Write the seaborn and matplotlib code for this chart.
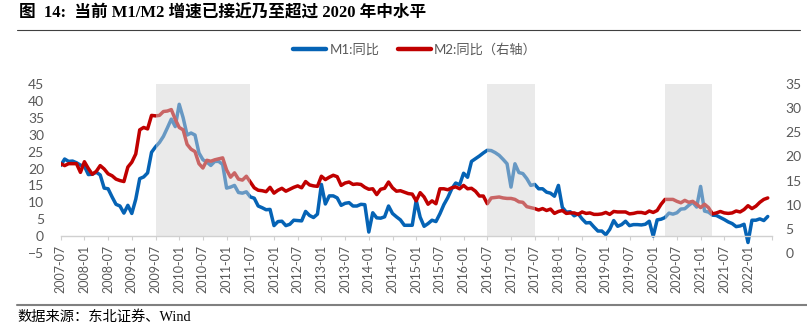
import numpy as np
import pandas as pd
import matplotlib
matplotlib.use("Agg")
import matplotlib.pyplot as plt
from matplotlib.lines import Line2D
import seaborn as sns

# ---------------- data (2007-07 .. 2022-06, monthly, %) ----------------
m1_yoy = [
    20.9, 22.8, 22.1, 22.2, 21.7, 21.0,
    20.7, 18.2, 18.3, 18.9, 18.1, 14.2, 14.0, 11.6, 9.4, 8.9, 6.8, 9.1,
    6.7, 10.9, 17.0, 17.5, 18.7, 24.8, 26.4, 27.7, 29.5, 32.0, 34.6, 32.4,
    39.0, 35.0, 29.9, 30.5, 29.9, 24.6, 22.6, 21.9, 20.9, 22.1, 22.1, 21.2,
    14.2, 14.5, 15.0, 12.9, 12.7, 13.1, 11.6, 11.2, 8.9, 8.4, 7.8, 7.9,
    3.1, 4.3, 4.4, 3.1, 3.5, 4.7, 4.6, 4.5, 7.3, 6.1, 5.5, 6.5,
    15.3, 9.5, 11.9, 11.9, 11.3, 9.1, 9.7, 9.9, 8.9, 8.9, 9.4, 9.3,
    1.2, 6.9, 5.4, 5.3, 5.7, 8.9, 6.7, 5.7, 4.8, 3.2, 3.2, 3.2,
    10.6, 5.6, 2.9, 3.7, 4.7, 4.3, 6.6, 9.3, 11.4, 14.0, 15.7, 15.2,
    18.6, 17.4, 22.1, 22.9, 23.7, 24.6, 25.4, 25.3, 24.7, 23.9, 22.7, 21.4,
    14.5, 21.4, 18.8, 18.5, 17.0, 15.0, 15.3, 14.0, 14.0, 13.0, 12.7, 11.8,
    15.0, 8.5, 7.1, 7.2, 6.0, 6.6, 5.1, 3.9, 4.0, 2.7, 1.5, 1.5,
    0.4, 2.0, 4.6, 2.9, 3.4, 4.4, 3.1, 3.4, 3.4, 3.3, 3.5, 4.4,
    0.0, 4.8, 5.0, 5.5, 6.8, 6.5, 6.9, 8.0, 8.1, 9.1, 10.0, 8.6,
    14.7, 7.4, 7.1, 6.2, 6.1, 5.5, 4.9, 4.2, 3.7, 2.8, 3.0, 3.5,
    -1.9, 4.7, 4.7, 5.1, 4.6, 5.8,
]
m2_yoy = [
    18.5, 18.1, 18.5, 18.5, 18.5, 16.7,
    18.9, 17.5, 16.3, 16.9, 18.1, 17.4, 16.4, 16.0, 15.3, 15.0, 14.8, 17.8,
    18.8, 20.5, 25.5, 26.0, 25.7, 28.5, 28.4, 28.5, 29.3, 29.4, 29.7, 27.7,
    26.0, 25.5, 22.5, 21.5, 21.0, 18.5, 17.6, 19.2, 19.0, 19.3, 19.5, 19.7,
    17.2, 15.7, 16.6, 15.3, 15.1, 15.9, 14.7, 13.5, 13.0, 12.9, 12.7, 13.6,
    12.4, 13.0, 13.4, 12.8, 13.2, 13.6, 13.9, 13.5, 14.8, 14.1, 13.9, 13.8,
    15.9, 15.2, 15.7, 16.1, 15.8, 14.0, 14.5, 14.7, 14.2, 14.3, 14.2, 13.6,
    13.2, 13.3, 12.1, 13.2, 13.4, 14.7, 13.5, 12.8, 12.9, 12.6, 12.3, 12.2,
    10.8, 12.5, 11.6, 10.1, 10.8, 10.2, 13.3, 13.3, 13.1, 13.5, 13.7, 13.3,
    14.0, 13.3, 13.4, 12.8, 11.8, 11.8, 10.2, 11.4, 11.5, 11.6, 11.4, 11.3,
    11.3, 11.1, 10.6, 10.5, 9.6, 9.4, 9.2, 8.9, 9.2, 8.8, 9.1, 8.2,
    8.6, 8.8, 8.2, 8.3, 8.3, 8.0, 8.5, 8.2, 8.3, 8.0, 8.0, 8.1,
    8.4, 8.0, 8.6, 8.5, 8.5, 8.5, 8.1, 8.2, 8.4, 8.4, 8.2, 8.7,
    8.4, 8.8, 10.1, 11.1, 11.1, 11.1, 10.7, 10.4, 10.9, 10.5, 10.7, 10.1,
    9.4, 10.1, 9.4, 8.1, 8.3, 8.6, 8.3, 8.2, 8.3, 8.7, 8.5, 9.0,
    9.8, 9.2, 9.7, 10.5, 11.1, 11.4,
]
tick_labels = ["2007-07", "2008-01", "2008-07", "2009-01", "2009-07", "2010-01",
               "2010-07", "2011-01", "2011-07", "2012-01", "2012-07", "2013-01",
               "2013-07", "2014-01", "2014-07", "2015-01", "2015-07", "2016-01",
               "2016-07", "2017-01", "2017-07", "2018-01", "2018-07", "2019-01",
               "2019-07", "2020-01", "2020-07", "2021-01", "2021-07", "2022-01", ""]
# shaded periods (start, end) as month labels
shade_periods = [("2009-07", "2011-07"), ("2016-07", "2017-07"), ("2020-04", "2021-04")]
series_names = ["M1:同比", "M2:同比（右轴）"]
title_text = "图  14:  当前 M1/M2 增速已接近乃至超过 2020 年中水平"
source_text = "数据来源：东北证券、Wind"

# ---------------- build table ----------------
df = pd.DataFrame({"idx": np.arange(len(m1_yoy)), "m1": m1_yoy, "m2": m2_yoy})
start = pd.Period("2007-07", freq="M")


def midx(s):
    return (pd.Period(s, freq="M") - start).n


sns.set_theme(style="white")
FONT = ["Lato", "Noto Sans CJK SC", "DejaVu Sans"]
plt.rcParams["font.family"] = FONT

BLUE = "#0563B5"
RED = "#C00000"
GRAY_TXT = "#595959"
AXIS_GRAY = "#D0D0D0"

fig = plt.figure(figsize=(8.07, 3.27), dpi=100)
fig.patch.set_facecolor("white")
ax = fig.add_axes([60.7 / 807, 1 - 253 / 327, (771.7 - 60.7) / 807, (253 - 84) / 327])
ax.patch.set_alpha(0)

sns.lineplot(data=df, x="idx", y="m1", ax=ax, color=BLUE, linewidth=2.5,
             label=series_names[0], legend=False, zorder=2)
ax.set_xlim(0, 180)
ax.set_ylim(-5, 45)
ax.set_yticks(np.arange(-5, 46, 5))

ax2 = ax.twinx()
sns.lineplot(data=df, x="idx", y="m2", ax=ax2, color=RED, linewidth=2.5,
             label=series_names[1], legend=False, zorder=2)
ax2.set_ylim(0, 35)
ax2.set_yticks(np.arange(0, 36, 5))
ax2.set_xlim(0, 180)

# shaded periods over the lines (semi-transparent)
for s, e in shade_periods:
    ax2.axvspan(midx(s), midx(e), ymin=0.1, ymax=1.0, color="#D4D4D4",
                alpha=0.48, lw=0, zorder=3)

# axes styling
for a in (ax, ax2):
    a.set_xlabel("")
    a.set_ylabel("")
    for sp in a.spines.values():
        sp.set_visible(False)
ax.spines["bottom"].set_visible(True)
ax.spines["bottom"].set_position(("data", 0))
ax.spines["bottom"].set_color(AXIS_GRAY)
ax.spines["bottom"].set_linewidth(1.0)

ax.set_xticks(np.arange(0, 181, 6))
ax.set_xticklabels(tick_labels, rotation=90)
ax.tick_params(axis="x", direction="out", length=3, width=0.8, color=AXIS_GRAY,
               pad=3, labelsize=9, labelcolor=GRAY_TXT, bottom=True)
ax.tick_params(axis="y", length=0, pad=12, labelsize=10, labelcolor=GRAY_TXT)
ax2.tick_params(axis="y", length=0, pad=10, labelsize=10, labelcolor=GRAY_TXT)
ax2.tick_params(axis="x", bottom=False, labelbottom=False)
ax.grid(False)
ax2.grid(False)

# legend
handles = [Line2D([], [], color=BLUE, lw=3.2), Line2D([], [], color=RED, lw=3.2)]
fig.legend(handles, series_names, loc="center", bbox_to_anchor=(415 / 807, 1 - 49 / 327),
           ncol=2, frameon=False, handlelength=2.5, handletextpad=0.25,
           columnspacing=1.4, prop={"family": FONT, "size": 9.5},
           labelcolor=GRAY_TXT)

# title, rules, source
fig.text(19 / 807, 1 - 13.5 / 327, title_text, ha="left", va="center",
         fontsize=12, fontweight="bold", color="black",
         family=["Liberation Serif", "Noto Sans CJK SC", "DejaVu Sans"])
fig.add_artist(Line2D([17 / 807, 800 / 807], [1 - 30 / 327, 1 - 30 / 327],
                      color="#404040", lw=0.8, transform=fig.transFigure))
fig.add_artist(Line2D([17 / 807, 807 / 807], [1 - 304.5 / 327, 1 - 304.5 / 327],
                      color="#808080", lw=1.5, transform=fig.transFigure))
fig.text(17 / 807, 1 - 317 / 327, source_text, ha="left", va="center",
         fontsize=10.3, color="black",
         family=["Liberation Serif", "Noto Sans CJK SC", "DejaVu Sans"])

fig.savefig("out.png", dpi=100, facecolor="white")
